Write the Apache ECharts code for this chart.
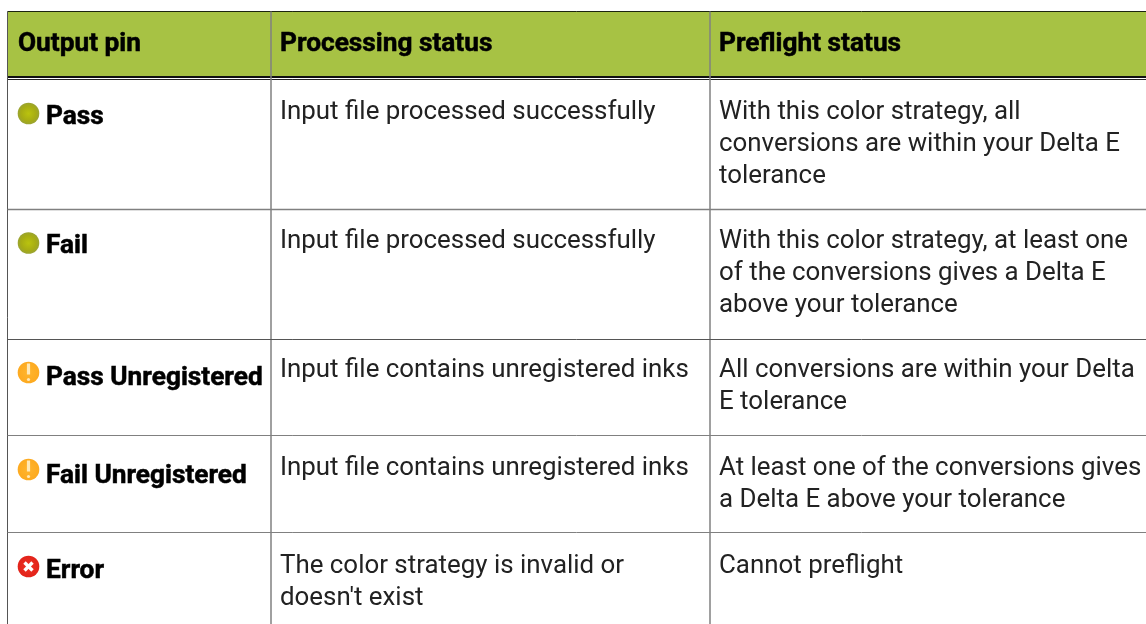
<!DOCTYPE html>
<html>
<head>
<meta charset="utf-8">
<style>html,body{margin:0;padding:0;background:#fff}#main{width:1146px;height:624px}</style>
<script src="https://cdn.jsdelivr.net/npm/echarts@6/dist/echarts.min.js"></script>
</head>
<body>
<div id="main"></div>
<script>
// table content
const headers = ['Output pin', 'Processing status', 'Preflight status'];
const pins = ['Pass', 'Fail', 'Pass Unregistered', 'Fail Unregistered', 'Error'];
const pinStates = ['ok', 'ok', 'warn', 'warn', 'error'];
const processing = [
	['Input file processed successfully'],
	['Input file processed successfully'],
	['Input file contains unregistered inks'],
	['Input file contains unregistered inks'],
	['The color strategy is invalid or', "doesn't exist"]
];
const preflight = [
	['With this color strategy, all', 'conversions are within your Delta E', 'tolerance'],
	['With this color strategy, at least one', 'of the conversions gives a Delta E', 'above your tolerance'],
	['All conversions are within your Delta', 'E tolerance'],
	['At least one of the conversions gives', 'a Delta E above your tolerance'],
	['Cannot preflight']
];

// layout
const W = 1146, H = 624;
const tableLeft = 7.5, tableTop = 11.5, headerBottom = 78;
const colLines = [271, 710];
const colText = [18, 280, 719];
const rowLines = [209.5, 339.5, 435.5, 532.5];
const firstLine = [113, 242, 371, 469, 567]; // centre of first text line per row
const pinY = [118, 247, 379, 477, 572];
const iconY = [113.5, 243, 372.5, 469.5, 566.5];
const lineGap = 31.7;
const font = 'Roboto, sans-serif';
const bodyScale = 1.035, boldScale = 1.05;

let els = [];
function line(x1, y1, x2, y2, stroke, width) {
	els.push({type: 'line', shape: {x1, y1, x2, y2}, style: {stroke, lineWidth: width}, silent: true});
}
function label(text, x, y, size, weight, sx, fill) {
	let style = {text, fontFamily: font, fontSize: size, fontWeight: weight, fill, textAlign: 'left', textVerticalAlign: 'middle'};
	if (weight === 700) { //参考图的粗体更重一些
		style.stroke = fill;
		style.lineWidth = 0.5;
	}
	els.push({type: 'text', x, y, scaleX: sx, originX: 0, style});
}
function pinIcon(state, cx, cy) {
	const colors = {
		ok: [{offset: 0, color: '#bac30e'}, {offset: 0.7, color: '#a6ac14'}, {offset: 1, color: '#9aa332'}],
		warn: [{offset: 0, color: '#ffb52e'}, {offset: 1, color: '#fdaa20'}],
		error: [{offset: 0, color: '#ee3124'}, {offset: 1, color: '#e2231a'}]
	};
	els.push({
		type: 'circle', shape: {cx, cy, r: 10.8},
		style: {fill: {type: 'radial', x: 0.5, y: 0.5, r: 0.5, colorStops: colors[state]}}
	});
	if (state === 'warn') {
		els.push({type: 'line', shape: {x1: cx, y1: cy - 9, x2: cx, y2: cy + 2}, style: {stroke: '#ffe9b8', lineWidth: 3.2}});
		els.push({type: 'circle', shape: {cx, cy: cy + 7, r: 1.6}, style: {fill: '#ffe9b8'}});
	} else if (state === 'error') {
		els.push({type: 'line', shape: {x1: cx - 4, y1: cy - 4, x2: cx + 4, y2: cy + 4}, style: {stroke: '#fff', lineWidth: 3.4}});
		els.push({type: 'line', shape: {x1: cx - 4, y1: cy + 4, x2: cx + 4, y2: cy - 4}, style: {stroke: '#fff', lineWidth: 3.4}});
	}
}

// header band
els.push({type: 'rect', shape: {x: tableLeft, y: tableTop, width: W - tableLeft, height: headerBottom - tableTop}, style: {fill: '#a7c244'}});
line(tableLeft, tableTop, W, tableTop, '#1c2410', 1);
line(tableLeft, 77, W, 77, '#111', 2);
line(tableLeft, 79.5, W, 79.5, '#222', 1);
// grid
line(tableLeft, tableTop, tableLeft, H, '#555', 1);
colLines.forEach(x => line(x, tableTop, x, H, '#808080', 1.5));
rowLines.forEach((y, i) => line(tableLeft, y, W, y, i === 1 ? '#555' : '#808080', i === 0 ? 1.5 : 1));

headers.forEach((h, i) => label(h, colText[i], 45, 25, 700, boldScale, '#000'));
pins.forEach((p, i) => {
	pinIcon(pinStates[i], 28.5, iconY[i]);
	label(p, 46, pinY[i], 25, 700, boldScale, '#000');
	processing[i].forEach((t, k) => label(t, colText[1], firstLine[i] + k * lineGap, 25, 400, bodyScale, '#222'));
	preflight[i].forEach((t, k) => label(t, colText[2], firstLine[i] + k * lineGap, 25, 400, bodyScale, '#222'));
});

let myChart = echarts.init(document.getElementById('main'), null, {renderer: 'canvas'});
myChart.setOption({
	animation: false,
	graphic: {elements: els}
});
</script>
</body>
</html>
